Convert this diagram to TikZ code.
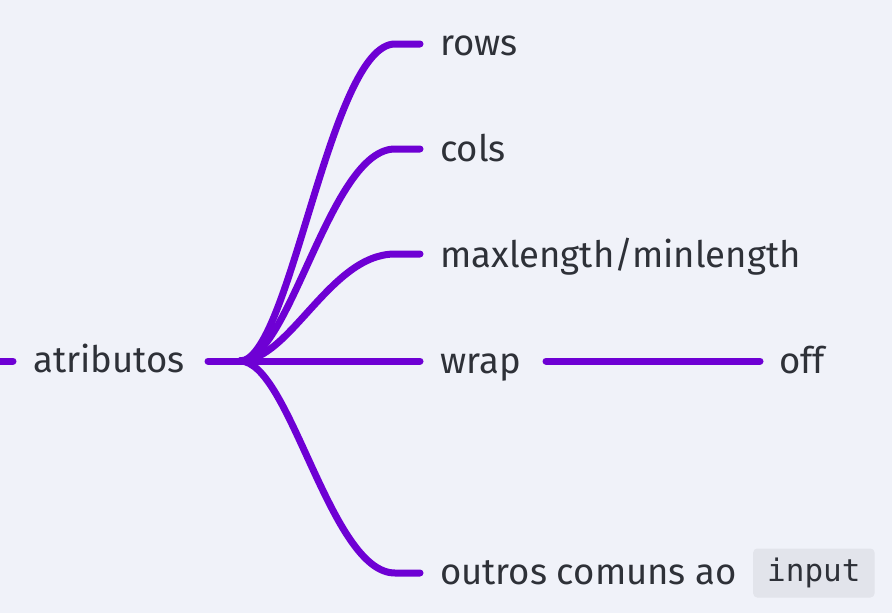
\documentclass[tikz,border=0pt]{standalone}
\usepackage{fontspec}
\setmainfont{Fira Sans}
\setmonofont{DejaVu Sans Mono}
\begin{document}
\begin{tikzpicture}[x=1pt,y=-1pt,
  br/.style={line width=7pt,draw=purp,line cap=round},
  lbl/.style={text=txt,font=\fontsize{36.5}{40}\selectfont,anchor=base west,inner sep=0pt},
  codebox/.style={fill=codebg,rounded corners=4pt,text=txt,font=\ttfamily\fontsize{31}{34}\selectfont,inner xsep=14pt,inner ysep=0pt,minimum height=49pt,anchor=west}]
\definecolor{purp}{HTML}{6E00D4}
\definecolor{txt}{HTML}{2E3138}
\definecolor{bgc}{HTML}{F0F2F9}
\definecolor{codebg}{HTML}{E2E4EB}
\fill[bgc] (0,0) rectangle (892,613);
\useasboundingbox (0,0) rectangle (892,613);
% nodes
\node[lbl] (attr) at (33,372) {atributos};
\node[lbl] (rows) at (440,55) {rows};
\node[lbl] (cols) at (440,161) {cols};
\node[lbl] (maxl) at (440,267) {maxlength/minlength};
\node[lbl] (wrap) at (440,373) {wrap};
\node[lbl] (off) at (779,373) {off};
\node[lbl] (outr) at (440,584) {outros comuns ao};
\node[codebox] (inp) at (753,573) {input};
\coordinate (lstub) at (0,361);
\coordinate (lend) at (13,361);
\coordinate (hub) at (240,361);
\coordinate (hstart) at (208,361);
\coordinate (rowsE) at (420,44);
\coordinate (colsE) at (420,149);
\coordinate (maxlE) at (420,254);
\coordinate (wrapE) at (420,361);
\coordinate (outrE) at (420,573);
\coordinate (wrapO) at (546,361);
\coordinate (offE) at (760,361);
% connectors
\draw[br] (lstub) -- (lend);
\draw[br] (hstart) -- (hub);
\draw[br] (hub) .. controls (290,361) and (330,44) .. (395,44) -- (rowsE);
\draw[br] (hub) .. controls (290,361) and (330,149) .. (395,149) -- (colsE);
\draw[br] (hub) .. controls (290,361) and (330,254) .. (395,254) -- (maxlE);
\draw[br] (hub) -- (wrapE);
\draw[br] (hub) .. controls (290,361) and (330,573) .. (395,573) -- (outrE);
\draw[br] (wrapO) -- (offE);
\end{tikzpicture}
\end{document}
